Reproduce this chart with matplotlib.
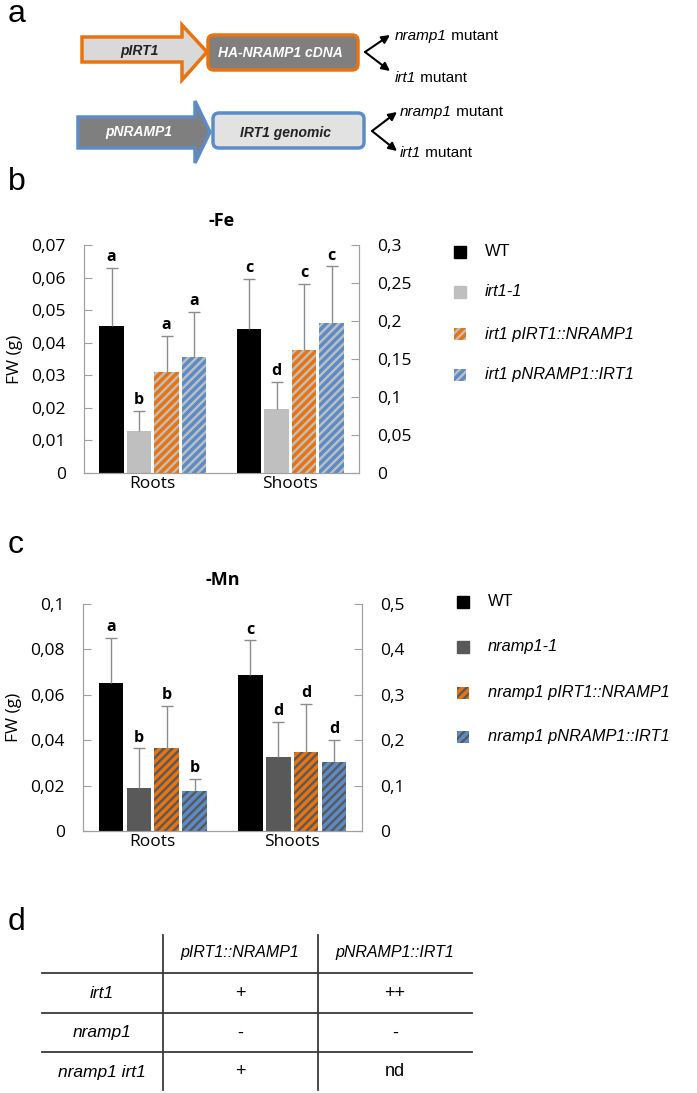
import matplotlib
matplotlib.use("Agg")
import matplotlib.pyplot as plt
import numpy as np
from matplotlib.patches import Polygon, FancyBboxPatch, Rectangle

plt.rcParams['hatch.linewidth'] = 2.5

W, H = 697, 1093

groups = ["Roots", "Shoots"]

# panel b, -Fe  (roots on left axis, shoots on right axis)
fe_lines = ["WT", "irt1-1", "irt1 pIRT1::NRAMP1", "irt1 pNRAMP1::IRT1"]
fe_roots = [0.045, 0.013, 0.031, 0.0355]
fe_roots_err = [0.018, 0.006, 0.011, 0.014]
fe_shoots = [0.19, 0.084, 0.162, 0.197]
fe_shoots_err = [0.065, 0.036, 0.087, 0.075]
fe_roots_let = ["a", "b", "a", "a"]
fe_shoots_let = ["c", "d", "c", "c"]

# panel c, -Mn
mn_lines = ["WT", "nramp1-1", "nramp1 pIRT1::NRAMP1", "nramp1 pNRAMP1::IRT1"]
mn_roots = [0.065, 0.019, 0.0364, 0.0175]
mn_roots_err = [0.020, 0.0174, 0.0186, 0.0055]
mn_shoots = [0.344, 0.164, 0.173, 0.153]
mn_shoots_err = [0.076, 0.077, 0.107, 0.047]
mn_roots_let = ["a", "b", "b", "b"]
mn_shoots_let = ["c", "d", "d", "d"]

# panel d table
tab_cols = ["pIRT1::NRAMP1", "pNRAMP1::IRT1"]
tab_rows = ["irt1", "nramp1", "nramp1 irt1"]
tab_cells = [["+", "++"], ["-", "-"], ["+", "nd"]]

ORANGE = "#e8730f"
BLUE = "#5b8cc8"
GREY_AX = "#a0a0a0"
ERR = "#8c8c8c"

fig = plt.figure(figsize=(W / 100, H / 100), dpi=100)

# overlay axes in pixel coords
ov = fig.add_axes([0, 0, 1, 1])
ov.set_xlim(0, W)
ov.set_ylim(H, 0)
ov.axis("off")


def fmt(v):
    return f"{v:g}".replace(".", ",")


def bar_styles(base):
    return [dict(color="black"),
            dict(color=base),
            dict(facecolor=base, edgecolor=ORANGE, hatch="////", linewidth=0),
            dict(facecolor=base, edgecolor=BLUE, hatch="////", linewidth=0)]


def draw_bars(a, xc, vals, errs, lets, styles, step, width):
    for i in range(4):
        x = xc + (i - 1.5) * step
        a.bar(x, vals[i], width, **styles[i])
        top = vals[i] + errs[i]
        a.vlines(x, vals[i], top, color=ERR, lw=1)
        a.plot(x, top, marker="_", ms=9, mew=1, color=ERR)
        a.annotate(lets[i], (x, top), xytext=(0, 2), textcoords="offset points",
                   ha="center", va="bottom", fontsize=11.5, fontweight="bold",
                   family="Open Sans")


def chart(px, title, roots, roots_err, shoots, shoots_err, r_let, s_let,
          lmax, lstep, rmax, rstep, base):
    l, r, b, t = px
    ax = fig.add_axes([l / W, 1 - b / H, (r - l) / W, (b - t) / H])
    ax2 = ax.twinx()
    styles = bar_styles(base)
    draw_bars(ax, 0, roots, roots_err, r_let, styles, 0.2, 0.175)
    draw_bars(ax2, 1, shoots, shoots_err, s_let, styles, 0.2, 0.175)
    ax.set_xlim(-0.5, 1.5)
    ax.set_ylim(0, lmax)
    ax2.set_ylim(0, rmax)
    lt = np.arange(0, lmax + lstep / 2, lstep)
    rt = np.arange(0, rmax + rstep / 2, rstep)
    ax.set_yticks(lt)
    ax.set_yticklabels([fmt(round(v, 3)) for v in lt])
    ax2.set_yticks(rt)
    ax2.set_yticklabels([fmt(round(v, 3)) for v in rt])
    ax.set_xticks([0, 1])
    ax.set_xticklabels(groups)
    for a in (ax, ax2):
        a.spines["top"].set_visible(False)
        for s in ("left", "right", "bottom"):
            a.spines[s].set_color(GREY_AX)
        a.tick_params(axis="y", direction="in", length=6, color=GREY_AX,
                      labelsize=12.5, pad=13)
        for lab in a.get_yticklabels():
            lab.set_family("Open Sans")
    ax.tick_params(axis="x", length=0, labelsize=12.5, pad=2)
    for lab in ax.get_xticklabels():
        lab.set_family("Open Sans")
    ax.set_ylabel("FW (g)", fontsize=12.5, family="Open Sans", labelpad=6)
    ax.set_title(title, fontsize=13, fontweight="bold", family="Open Sans", pad=14)
    return ax


chart((84, 359, 473, 245), "-Fe", fe_roots, fe_roots_err, fe_shoots, fe_shoots_err,
      fe_roots_let, fe_shoots_let, 0.07, 0.01, 0.3, 0.05, "#bfbfbf")
chart((83, 362, 831, 604), "-Mn", mn_roots, mn_roots_err, mn_shoots, mn_shoots_err,
      mn_roots_let, mn_shoots_let, 0.1, 0.02, 0.5, 0.1, "#595959")


# legends
def legend(x, ys, labels, base):
    styles = bar_styles(base)
    for i, (y, lab) in enumerate(zip(ys, labels)):
        ov.add_patch(Rectangle((x - 6, y - 6), 12, 12, **styles[i]))
        style = "normal" if lab == "WT" else "italic"
        ov.text(x + 25, y, lab, fontsize=11.8, style=style, va="center",
                family="Liberation Sans")


legend(460, [252, 292, 334, 375], fe_lines, "#bfbfbf")
legend(463, [602, 647, 693, 737], mn_lines, "#595959")

# panel letters
for lab, y in [("a", 14), ("b", 182), ("c", 545), ("d", 922)]:
    ov.text(8, y, lab, fontsize=23, va="center", family="Liberation Sans")

# panel a: constructs
arrow1 = [(82, 37), (182, 37), (182, 25), (207, 52), (182, 80), (182, 62), (82, 62)]
ov.add_patch(Polygon(arrow1, closed=True, facecolor="#d9d9d9", edgecolor=ORANGE,
                     lw=2.5, joinstyle="miter"))
ov.add_patch(FancyBboxPatch((208, 35), 150, 35, boxstyle="round,pad=0,rounding_size=6",
                            facecolor="#7f7f7f", edgecolor=ORANGE, lw=2.5))
ov.text(140, 51, "pIRT1", fontsize=10, fontweight="bold", style="italic",
        ha="center", va="center", color="#222222", family="Liberation Sans")
ov.text(280, 53, "HA-NRAMP1 cDNA", fontsize=10, fontweight="bold", style="italic",
        ha="center", va="center", color="white", family="Liberation Sans")

arrow2 = [(78, 117), (195, 117), (195, 101), (210, 132), (195, 163), (195, 148), (78, 148)]
ov.add_patch(Polygon(arrow2, closed=True, facecolor="#7f7f7f", edgecolor=BLUE,
                     lw=2.5, joinstyle="miter"))
ov.add_patch(FancyBboxPatch((213, 113), 151, 35, boxstyle="round,pad=0,rounding_size=6",
                            facecolor="#e2e2e2", edgecolor=BLUE, lw=2.5))
ov.text(139, 132, "pNRAMP1", fontsize=10, fontweight="bold", style="italic",
        ha="center", va="center", color="white", family="Liberation Sans")
ov.text(285, 133, "IRT1 genomic", fontsize=10, fontweight="bold", style="italic",
        ha="center", va="center", color="#222222", family="Liberation Sans")

for (x0, y0, ya, yb, tx, ta, tb) in [(365, 52, 35, 71, 395, 36, 78),
                                     (372, 131, 112, 151, 400, 112, 153)]:
    for y1 in (ya, yb):
        ov.annotate("", xy=(x0 + 25, y1), xytext=(x0, y0),
                    arrowprops=dict(arrowstyle="-|>", color="black", lw=1.5,
                                    mutation_scale=12, shrinkA=0, shrinkB=0))
    for ty, gene in ((ta, "nramp1"), (tb, "irt1")):
        t1 = ov.text(tx, ty, gene, fontsize=11, style="italic", va="center",
                     family="Liberation Sans")
        ov.annotate(" mutant", xy=(1, 0.5), xycoords=t1, fontsize=11, va="center",
                    ha="left", family="Liberation Sans")

# panel d: table
LC = "#3a3a3a"
for xv in (163, 318):
    ov.plot([xv, xv], [935, 1090], color=LC, lw=1.3)
for yh in (973, 1013, 1052):
    ov.plot([42, 472], [yh, yh], color=LC, lw=1.3)
col_x = [240, 395]
row_y = [993, 1033, 1072]
for j, c in enumerate(tab_cols):
    ov.text(col_x[j], 952, c, fontsize=11.5, style="italic", ha="center", va="center",
            family="Liberation Sans")
for i, rlab in enumerate(tab_rows):
    ov.text(102, row_y[i], rlab, fontsize=12.5, style="italic", ha="center", va="center",
            family="Liberation Sans")
    for j in range(2):
        ov.text(col_x[j], row_y[i], tab_cells[i][j], fontsize=13, ha="center",
                va="center", family="Liberation Sans")

fig.savefig("out.png", dpi=100)
